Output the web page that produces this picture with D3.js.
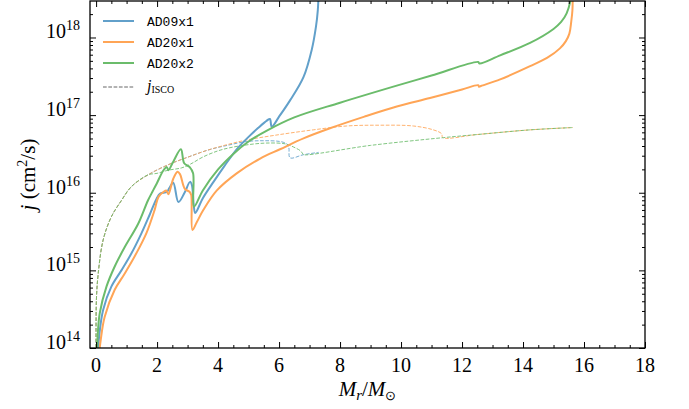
<!DOCTYPE html>
<html>
<head>
<meta charset="utf-8">
<script src="https://cdn.jsdelivr.net/npm/d3@7"></script>
<style>
  body { margin: 0; background: #fff; }
  svg { display: block; }
</style>
</head>
<body>
<script>
// enclosed mass M_r/M_sun and log10 of specific angular momentum j (cm^2/s)
var ad09Mr = [0.05, 0.1, 0.23, 0.5, 0.83, 1.16, 1.49, 1.76, 1.98, 2.1, 2.32, 2.4, 2.53, 2.7, 2.9, 3.08, 3.14, 3.2, 3.25, 3.5, 3.85, 4.2, 4.61, 5.0, 5.3, 5.6, 5.7, 5.76, 6.0, 6.36, 6.8, 7.07, 7.21, 7.27, 7.3];
var ad09LogJ = [13.85, 14.15, 14.49, 14.79, 15.0, 15.22, 15.48, 15.72, 15.92, 15.99, 16.01, 16.06, 16.13, 15.88, 16.0, 16.14, 16.1, 15.85, 15.74, 15.93, 16.14, 16.34, 16.56, 16.72, 16.83, 16.93, 16.95, 16.85, 16.98, 17.19, 17.49, 17.84, 18.14, 18.35, 18.6];

var ad20x1Mr = [0.08, 0.15, 0.28, 0.61, 0.94, 1.32, 1.65, 1.92, 2.05, 2.21, 2.3, 2.37, 2.53, 2.67, 2.75, 2.91, 3.07, 3.12, 3.16, 3.3, 3.52, 3.96, 4.61, 5.38, 6.03, 6.8, 7.67, 8.8, 9.86, 10.95, 12.0, 12.53, 12.56, 12.62, 13.25, 14.23, 14.8, 15.21, 15.4, 15.52, 15.58, 15.62, 15.63];
var ad20x1LogJ = [13.85, 14.1, 14.4, 14.75, 14.96, 15.22, 15.48, 15.78, 15.95, 16.01, 16.03, 15.98, 16.18, 16.27, 16.24, 16.05, 16.01, 15.97, 15.52, 15.62, 15.78, 16.03, 16.25, 16.44, 16.56, 16.7, 16.83, 16.98, 17.11, 17.22, 17.33, 17.385, 17.365, 17.375, 17.46, 17.63, 17.74, 17.86, 17.95, 18.05, 18.2, 18.35, 18.6];

var ad20x2Mr = [0.02, 0.05, 0.12, 0.34, 0.61, 0.94, 1.38, 1.7, 1.87, 1.99, 2.21, 2.32, 2.37, 2.53, 2.78, 2.89, 3.07, 3.18, 3.21, 3.5, 4.0, 4.5, 5.0, 5.6, 6.5, 8.0, 9.86, 11.0, 12.53, 12.57, 13.25, 14.23, 15.0, 15.25, 15.43, 15.57, 15.6];
var ad20x2LogJ = [13.85, 14.15, 14.45, 14.79, 15.05, 15.3, 15.6, 15.9, 16.03, 16.12, 16.29, 16.33, 16.29, 16.4, 16.56, 16.38, 16.33, 16.25, 15.82, 16.03, 16.3, 16.5, 16.66, 16.8, 16.97, 17.16, 17.38, 17.51, 17.685, 17.665, 17.77, 17.93, 18.11, 18.2, 18.31, 18.5, 18.6];

// j_ISCO curves
var isco09Mr = [0.0, 0.01, 0.07, 0.23, 0.5, 0.83, 1.16, 1.7, 2.36, 3.02, 3.67, 4.3, 4.94, 5.5, 6.03, 6.25, 6.32, 6.36, 6.8, 7.3];
var isco09LogJ = [13.8, 14.62, 14.96, 15.39, 15.69, 15.9, 16.08, 16.23, 16.36, 16.46, 16.55, 16.61, 16.66, 16.67, 16.66, 16.63, 16.58, 16.45, 16.49, 16.52];

var isco20x1Mr = [0.0, 0.01, 0.07, 0.23, 0.5, 0.83, 1.16, 1.7, 2.36, 3.02, 3.67, 4.3, 4.94, 6.03, 7.12, 8.22, 9.31, 10.4, 11.06, 11.33, 11.37, 12.5, 14.23, 15.63];
var isco20x1LogJ = [13.8, 14.62, 14.96, 15.39, 15.69, 15.9, 16.08, 16.23, 16.36, 16.46, 16.55, 16.62, 16.68, 16.75, 16.81, 16.86, 16.87, 16.86, 16.81, 16.76, 16.71, 16.75, 16.81, 16.84];

var isco20x2Mr = [0.0, 0.01, 0.07, 0.23, 0.5, 0.83, 1.16, 1.7, 2.0, 2.36, 2.8, 3.1, 3.5, 4.0, 4.39, 5.0, 5.6, 6.2, 6.47, 6.7, 6.78, 6.8, 9.0, 11.39, 12.5, 14.23, 15.63];
var isco20x2LogJ = [13.8, 14.62, 14.96, 15.39, 15.69, 15.9, 16.08, 16.23, 16.25, 16.29, 16.32, 16.37, 16.46, 16.54, 16.58, 16.62, 16.64, 16.63, 16.59, 16.54, 16.5, 16.49, 16.61, 16.71, 16.75, 16.81, 16.84];

var seriesNames = ["AD09x1", "AD20x1", "AD20x2"];
var seriesColors = ["#62a0ca", "#ffa556", "#6bbc6b"];
var xTicks = [0, 2, 4, 6, 8, 10, 12, 14, 16, 18];
var yExps = [14, 15, 16, 17, 18];

var w = 689, h = 409;
var pl = 90, pr = 645, pt = 1, pb = 348;

var svg = d3.select("body").append("svg")
  .attr("width", w)
  .attr("height", h)
  .attr("font-family", "'Liberation Serif', serif");

var x = d3.scaleLinear().domain([-0.2, 18]).range([pl, pr]);
var y = d3.scaleLog().domain([1e14, Math.pow(10, 18.47)]).range([pb, pt]);

svg.append("clipPath").attr("id", "plotclip")
  .append("rect")
  .attr("x", pl).attr("y", pt)
  .attr("width", pr - pl).attr("height", pb - pt);

function pairs(mr, lj) {
  return mr.map(function(m, i) { return [m, Math.pow(10, lj[i])]; });
}

var line = d3.line()
  .curve(d3.curveCatmullRom.alpha(0.5))
  .x(function(d) { return x(d[0]); })
  .y(function(d) { return y(d[1]); });

var plot = svg.append("g").attr("clip-path", "url(#plotclip)");

// dashed ISCO lines first
var isco = [
  pairs(isco09Mr, isco09LogJ),
  pairs(isco20x1Mr, isco20x1LogJ),
  pairs(isco20x2Mr, isco20x2LogJ)
];
isco.forEach(function(d, i) {
  plot.append("path")
    .attr("d", line(d))
    .attr("fill", "none")
    .attr("stroke", seriesColors[i])
    .attr("stroke-opacity", 0.85)
    .attr("stroke-width", 1)
    .attr("stroke-dasharray", "3.7,1.6");
});

var solid = [
  pairs(ad09Mr, ad09LogJ),
  pairs(ad20x1Mr, ad20x1LogJ),
  pairs(ad20x2Mr, ad20x2LogJ)
];
solid.forEach(function(d, i) {
  plot.append("path")
    .attr("d", line(d))
    .attr("fill", "none")
    .attr("stroke", seriesColors[i])
    .attr("stroke-width", 2)
    .attr("stroke-linejoin", "round");
});

// ticks (inward, all four sides)
var xMinor = d3.range(0, 18.01, 0.5).filter(function(v) { return v % 2 !== 0; });
var yMinor = [];
for (var e = 14; e <= 18; e++) {
  for (var k = 2; k <= 9; k++) {
    var v = k * Math.pow(10, e);
    if (v < y.domain()[1]) yMinor.push(v);
  }
}
var yMajor = yExps.map(function(p) { return Math.pow(10, p); });

function cleanAxis(g) {
  g.select(".domain").remove();
  g.selectAll("line").attr("stroke", "#000").attr("stroke-width", 1);
}

svg.append("g").attr("transform", "translate(0," + pb + ")")
  .call(d3.axisBottom(x).tickValues(xTicks).tickSize(-6).tickFormat("")).call(cleanAxis);
svg.append("g").attr("transform", "translate(0," + pb + ")")
  .call(d3.axisBottom(x).tickValues(xMinor).tickSize(-3).tickFormat("")).call(cleanAxis);
svg.append("g").attr("transform", "translate(0," + pt + ")")
  .call(d3.axisTop(x).tickValues(xTicks).tickSize(-6).tickFormat("")).call(cleanAxis);
svg.append("g").attr("transform", "translate(0," + pt + ")")
  .call(d3.axisTop(x).tickValues(xMinor).tickSize(-3).tickFormat("")).call(cleanAxis);

svg.append("g").attr("transform", "translate(" + pl + ",0)")
  .call(d3.axisLeft(y).tickValues(yMajor).tickSize(-6).tickFormat("")).call(cleanAxis);
svg.append("g").attr("transform", "translate(" + pl + ",0)")
  .call(d3.axisLeft(y).tickValues(yMinor).tickSize(-3).tickFormat("")).call(cleanAxis);
svg.append("g").attr("transform", "translate(" + pr + ",0)")
  .call(d3.axisRight(y).tickValues(yMajor).tickSize(-6).tickFormat("")).call(cleanAxis);
svg.append("g").attr("transform", "translate(" + pr + ",0)")
  .call(d3.axisRight(y).tickValues(yMinor).tickSize(-3).tickFormat("")).call(cleanAxis);

// frame
svg.append("rect")
  .attr("x", pl).attr("y", pt)
  .attr("width", pr - pl).attr("height", pb - pt)
  .attr("fill", "none").attr("stroke", "#000").attr("stroke-width", 1.3);

// x tick labels
svg.append("g").selectAll("text")
  .data(xTicks).enter().append("text")
  .attr("x", function(d) { return x(d); })
  .attr("y", 372)
  .attr("text-anchor", "middle")
  .attr("font-size", "20px")
  .text(function(d) { return d; });

// y tick labels 10^n
var ylab = svg.append("g").selectAll("text")
  .data(yExps).enter().append("text")
  .attr("x", 80)
  .attr("y", function(d) { return y(Math.pow(10, d)) + 1; })
  .attr("text-anchor", "end")
  .attr("font-size", "20px");
ylab.append("tspan").text("10");
ylab.append("tspan").attr("dy", -8).attr("font-size", "14px")
  .text(function(d) { return d; });

// axis titles
var xt = svg.append("text")
  .attr("x", (pl + pr) / 2)
  .attr("y", 396)
  .attr("text-anchor", "middle")
  .attr("font-size", "21px");
xt.append("tspan").attr("font-style", "italic").text("M");
xt.append("tspan").attr("font-style", "italic").attr("font-size", "15px").attr("dy", 4).text("r");
xt.append("tspan").attr("dy", -4).text("/");
xt.append("tspan").attr("font-style", "italic").text("M");
xt.append("tspan").attr("font-size", "13px").attr("dy", 4).text("\u2299");

var yt = svg.append("text")
  .attr("transform", "translate(35," + ((pt + pb) / 2) + ") rotate(-90)")
  .attr("text-anchor", "middle")
  .attr("font-size", "21px");
yt.append("tspan").attr("font-style", "italic").text("j");
yt.append("tspan").text(" (cm");
yt.append("tspan").attr("font-size", "14px").attr("dy", -8).text("2");
yt.append("tspan").attr("dy", 8).text("/s)");

// legend
var legend = svg.append("g");
var rows = [21, 42, 63];
seriesNames.forEach(function(name, i) {
  legend.append("line")
    .attr("x1", 103).attr("x2", 134)
    .attr("y1", rows[i]).attr("y2", rows[i])
    .attr("stroke", seriesColors[i]).attr("stroke-width", 2);
  legend.append("text")
    .attr("x", 147).attr("y", rows[i] + 5)
    .attr("font-family", "'Liberation Mono', monospace")
    .attr("font-size", "13px")
    .text(name);
});
legend.append("line")
  .attr("x1", 103).attr("x2", 134)
  .attr("y1", 87).attr("y2", 87)
  .attr("stroke", "#666").attr("stroke-width", 1)
  .attr("stroke-dasharray", "3.7,1.6");
var jl = legend.append("text")
  .attr("x", 147).attr("y", 91)
  .attr("font-size", "16px");
jl.append("tspan").attr("font-style", "italic").text("j");
jl.append("tspan").attr("font-size", "10px").attr("dy", 2).text("ISCO");
</script>
</body>
</html>
